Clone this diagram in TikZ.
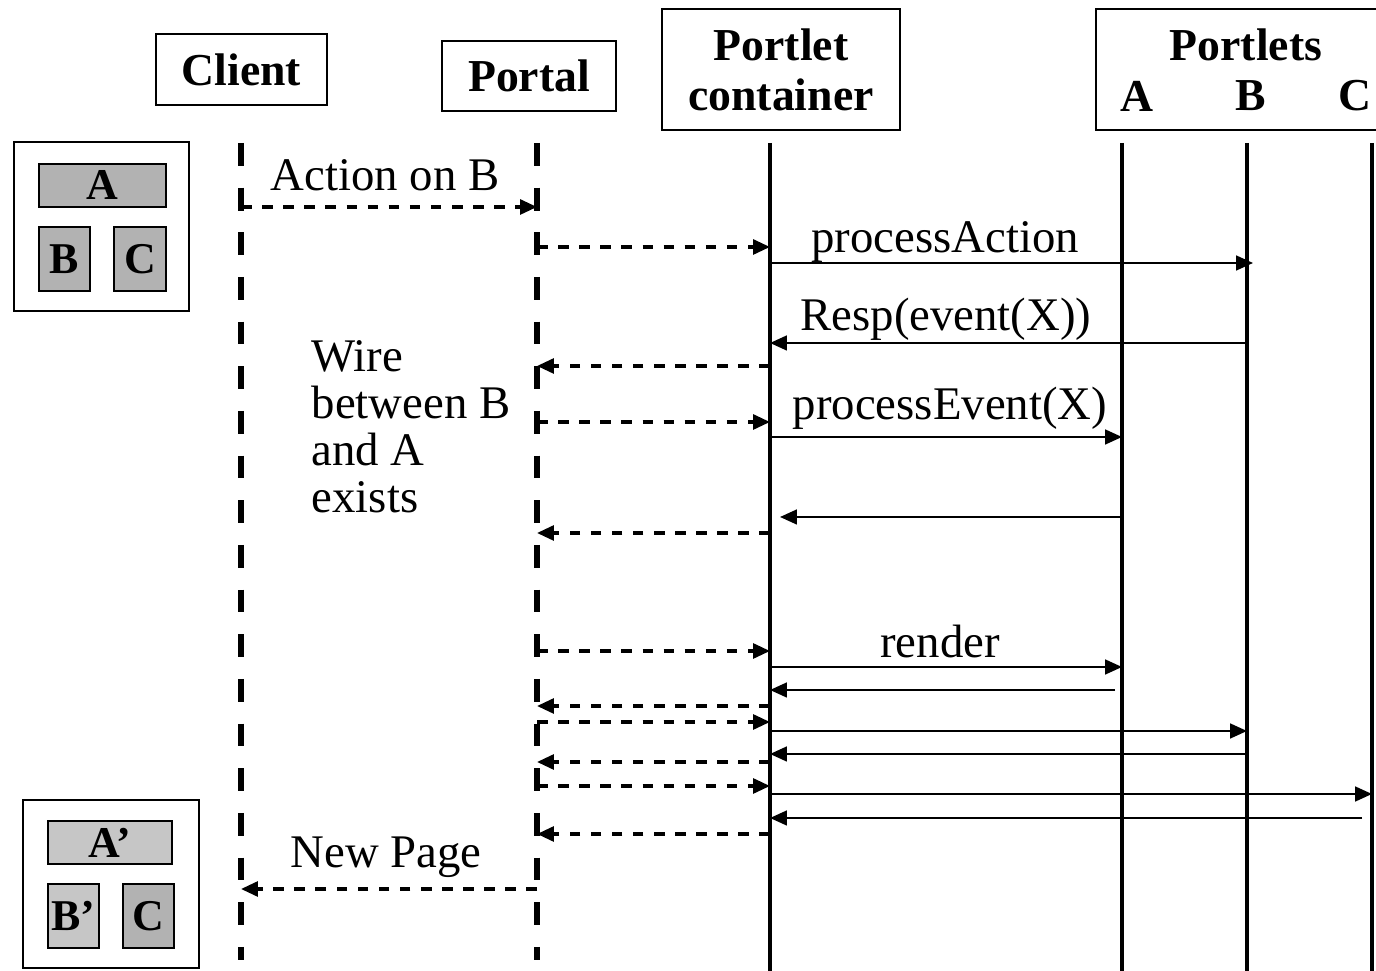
\documentclass[tikz,border=0pt]{standalone}
\usepackage{fontspec}
\setmainfont{Liberation Serif}
\usetikzlibrary{arrows.meta}

\newcommand{\lblfont}{\fontsize{13.3}{13.45}\selectfont}
\newcommand{\hdrfont}{\fontsize{13}{14.2}\selectfont\bfseries}

\begin{document}
\begin{tikzpicture} [x=0.01cm, y=-0.01cm,
            head/.style={draw,line width=0.6pt,font=\hdrfont},
            screen/.style={draw,line width=0.6pt},
            win/.style={draw,line width=0.8pt,fill=gray!60,inner sep=0pt,
                        font=\fontsize{12.5}{12.5}\selectfont\bfseries},
            life/.style={line width=1.4pt},
            dlife/.style={line width=1.7pt,dash pattern=on 6.5pt off 6.2pt},
            msg/.style={-{Triangle[length=4.8pt,width=4.2pt]},line width=0.6pt},
            dmsg/.style={msg,line width=0.95pt,dash pattern=on 3pt off 3pt},
            lbl/.style={font=\lblfont},
         every node/.append style={align=center}]

\useasboundingbox (0,0) rectangle (1376,971);

%Headers
\node (client) at (241.5,69.5) [head,minimum width=1.71cm,minimum height=0.71cm] {Client};
\node (portal) at (529,76) [head,minimum width=1.74cm,minimum height=0.70cm] {Portal};
\node (cont) at (781,69.5) [head,minimum width=2.38cm,minimum height=1.21cm] {Portlet\\container};
\node (portlets) at (1248,69.5) [head,minimum width=3.04cm,minimum height=1.21cm] {};
\node (ptl) at (1246,45) [font=\hdrfont] {Portlets};
\node (hA) at (1137,96) [font=\hdrfont] {A};
\node (hB) at (1251,96) [font=\hdrfont] {B};
\node (hC) at (1355,96) [font=\hdrfont] {C};

%Lifelines
\coordinate (cl) at (241,143);  \coordinate (cl2) at (241,960);
\coordinate (po) at (537,143);  \coordinate (po2) at (537,960);
\coordinate (co) at (770,143);  \coordinate (co2) at (770,975);
\coordinate (pa) at (1122,143); \coordinate (pa2) at (1122,975);
\coordinate (pb) at (1247,143); \coordinate (pb2) at (1247,975);
\coordinate (pc) at (1372,143); \coordinate (pc2) at (1372,975);
\draw[dlife] (cl) -- (cl2);
\draw[dlife] (po) -- (po2);
\draw[life] (co) -- (co2);
\draw[life] (pa) -- (pa2);
\draw[life] (pb) -- (pb2);
\draw[life] (pc) -- (pc2);

%Page before
\node (scr1) at (101.5,226.5) [screen,minimum width=1.75cm,minimum height=1.69cm] {};
\node (wA) at (102.5,185.5) [win,minimum width=1.27cm,minimum height=0.43cm] {A};
\node (wB) at (64.5,259) [win,minimum width=0.51cm,minimum height=0.64cm] {B};
\node (wC) at (140,259) [win,minimum width=0.52cm,minimum height=0.64cm] {C};

%Page after
\node (scr2) at (111,884) [screen,minimum width=1.76cm,minimum height=1.68cm] {};
\node (wA2) at (110,842.5) [win,fill=gray!45,minimum width=1.24cm,minimum height=0.43cm] {A’};
\node (wB2) at (73.5,916) [win,fill=gray!45,minimum width=0.51cm,minimum height=0.64cm] {B’};
\node (wC2) at (148.5,916) [win,minimum width=0.51cm,minimum height=0.64cm] {C};

%Portal <-> container, client
\foreach \y/\a/\b in {207/cl/po, 247/po/co, 366/co/po, 422/po/co, 533/co/po,
                      651/po/co, 706/co/po, 722/po/co, 762/co/po, 786/po/co,
                      834/co/po, 889/po/cl}
   \draw[dmsg] (\a |- 0,\y) -- (\b |- 0,\y);

%Container <-> portlets
\foreach \y/\a/\b in {343/pb/co, 437/co/pa, 667/co/pa,
                      731/co/pb, 754/pb/co, 794/co/pc}
   \draw[msg] (\a |- 0,\y) -- (\b |- 0,\y);
\draw[msg] (co |- 0,263) -- ([xshift=0.06cm]pb |- 0,263);
\draw[msg] (pa |- 0,517) -- ([xshift=0.1cm]co |- 0,517);
\draw[msg] ([xshift=-0.07cm]pa |- 0,690) -- (co |- 0,690);
\draw[msg] ([xshift=-0.1cm]pc |- 0,818) -- (co |- 0,818);

%Labels
\node (l1) at (385,175) [lbl] {Action on B};
\node (l2) at (945,242) [lbl] {processAction};
\node (l3) at (946,319) [lbl] {Resp(event(X))};
\node (l4) at (950,408) [lbl] {processEvent(X)};
\node (l5) at (940,642) [lbl] {render};
\node (l6) at (386,857) [lbl] {New Page};
\node (wire) at (311,513) [lbl,anchor=base west,inner sep=0pt,align=left]
   {Wire\\between B\\and A\\exists};

\end{tikzpicture}
\end{document}
